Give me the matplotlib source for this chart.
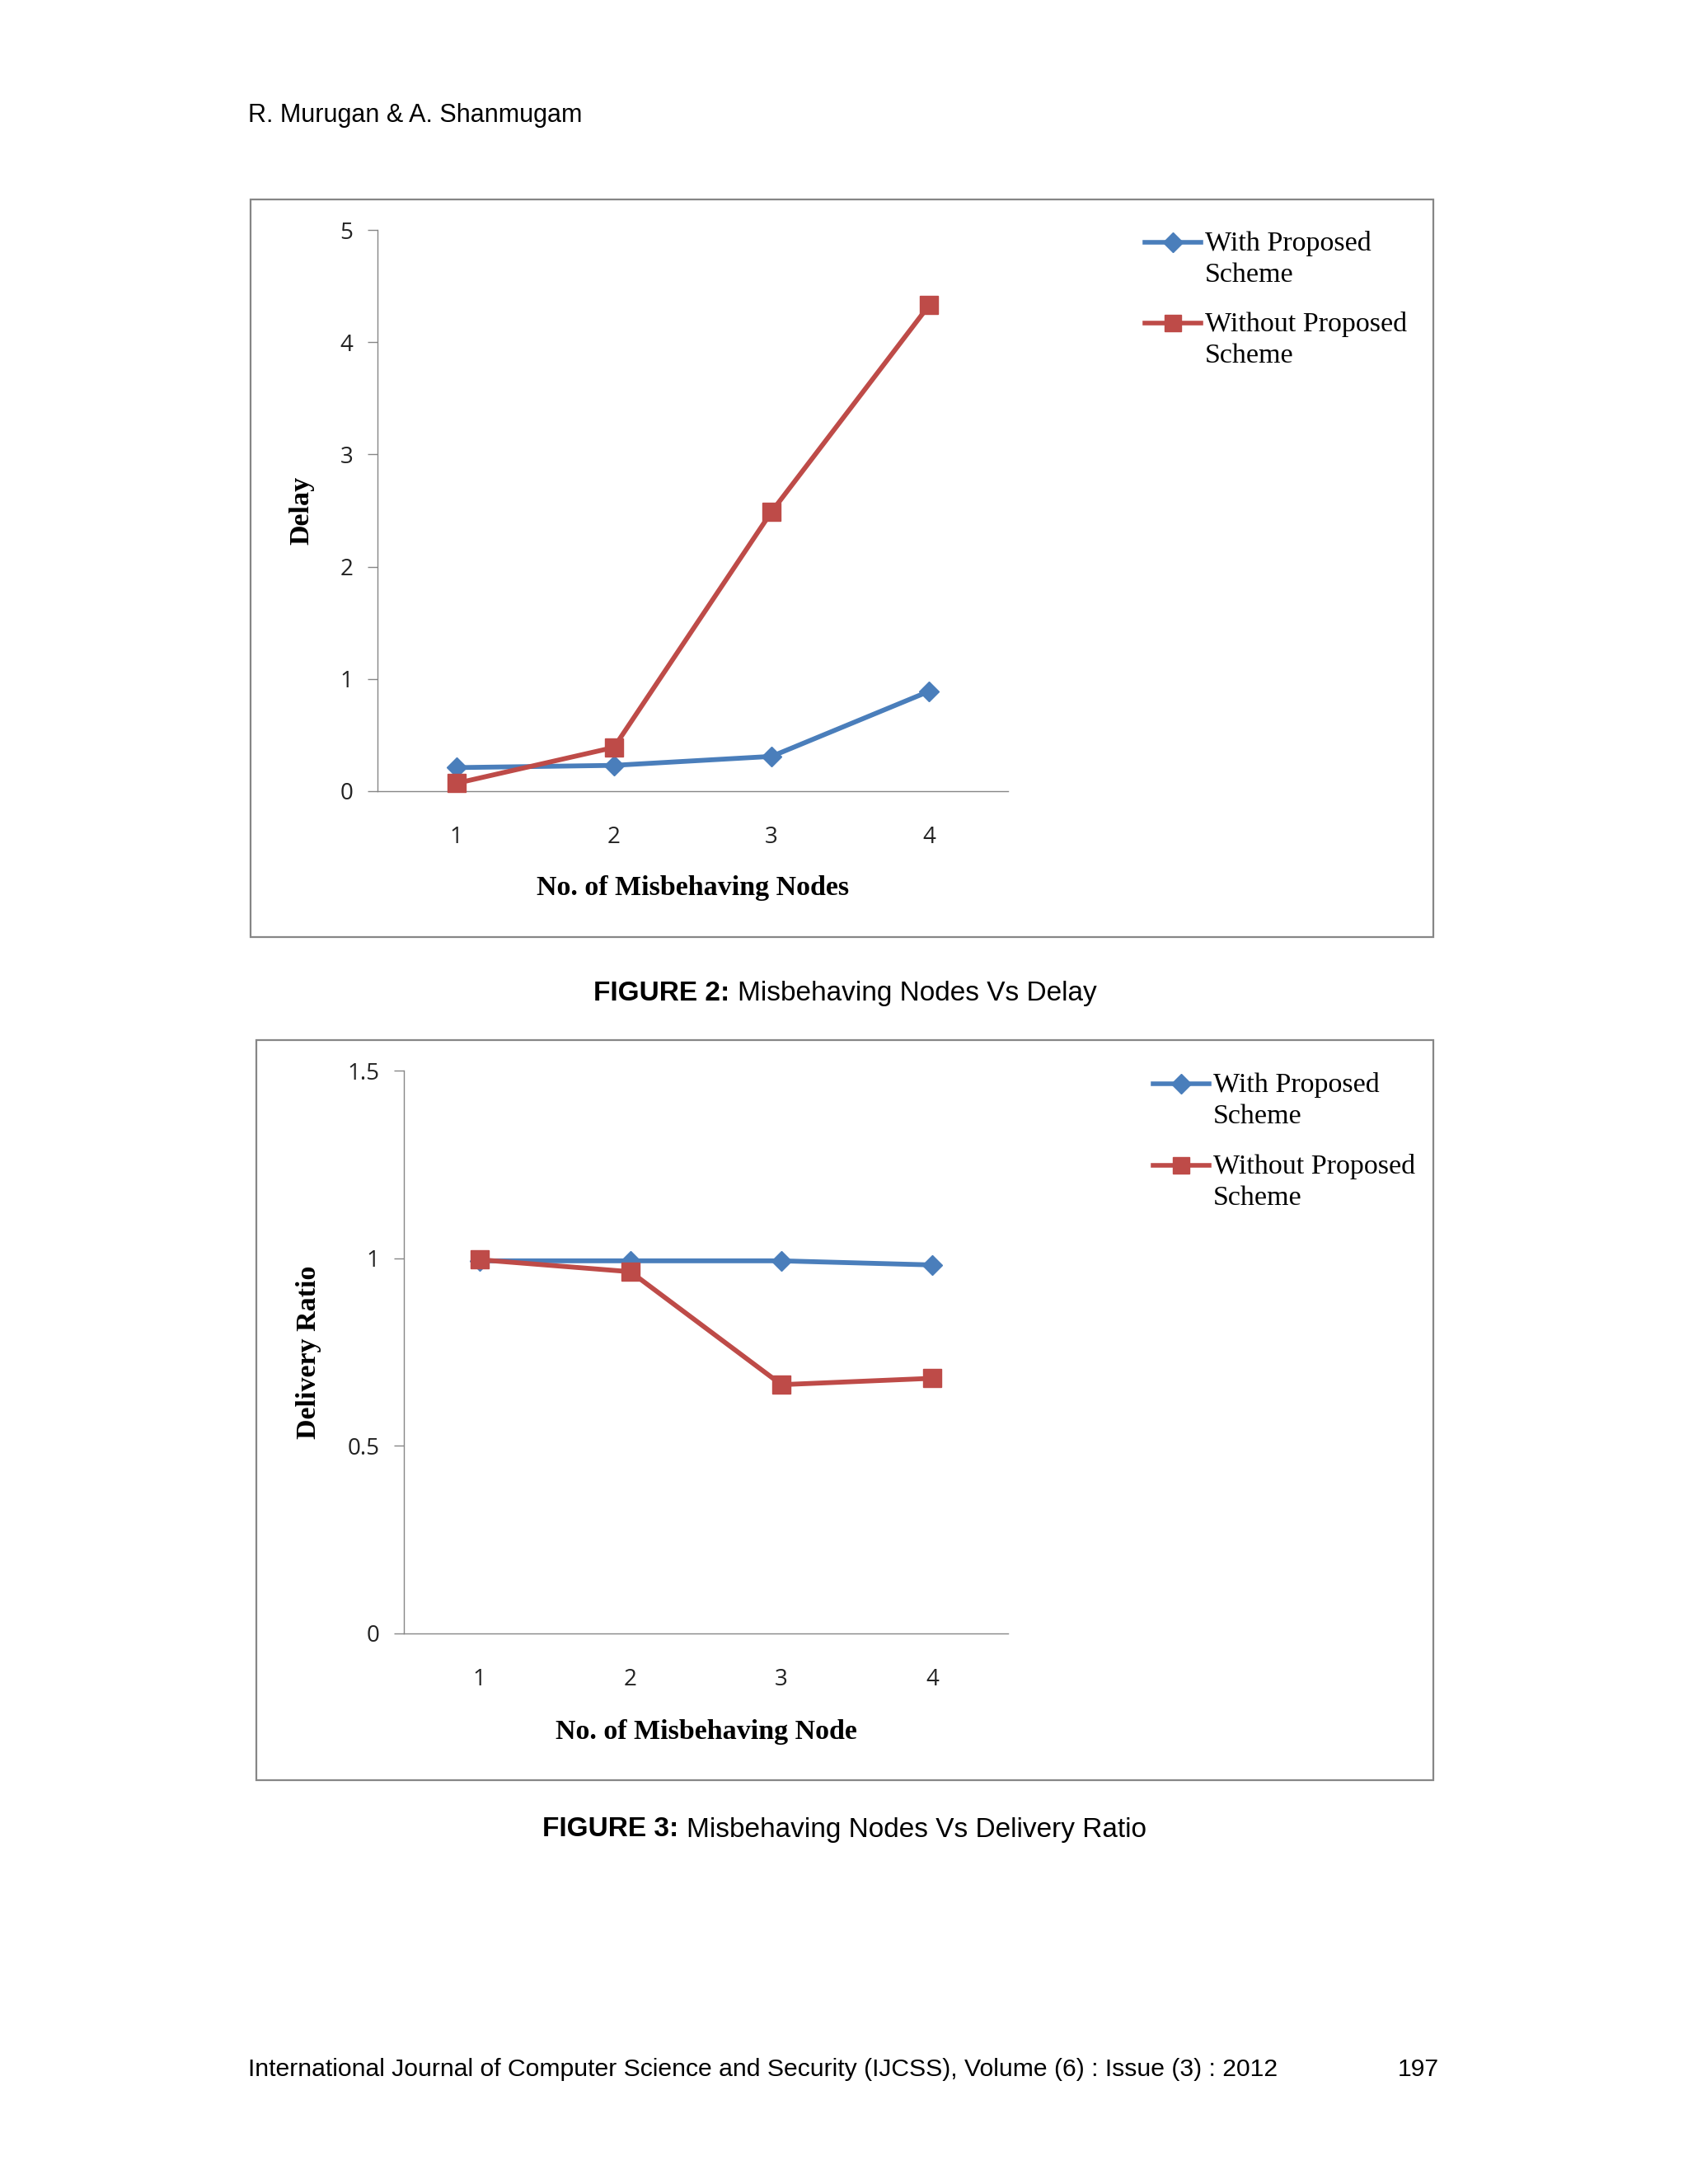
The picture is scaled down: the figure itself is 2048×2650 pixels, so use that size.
import matplotlib
matplotlib.use("Agg")
import matplotlib.pyplot as plt
from matplotlib.lines import Line2D
from matplotlib.patches import Rectangle

W, H = 2048, 2650

nodes = [1, 2, 3, 4]
series_labels = ["With Proposed\nScheme", "Without Proposed\nScheme"]
delay_with = [0.21, 0.23, 0.31, 0.89]
delay_without = [0.07, 0.39, 2.49, 4.33]
ratio_with = [0.993, 0.993, 0.993, 0.982]
ratio_without = [0.996, 0.964, 0.663, 0.680]

BLUE = "#4A7EBB"
RED = "#BE4B48"
GRAY = "#868686"
SANS = "Liberation Sans"
SERIF = "Liberation Serif"
TICKF = "Open Sans"


def rect(l, t, r, b):
    return [l / W, 1 - b / H, (r - l) / W, (b - t) / H]


def fx(x):
    return x / W


def fy(y):
    return 1 - y / H


fig = plt.figure(figsize=(W / 100, H / 100), dpi=100)
fig.patch.set_facecolor("white")


def box(l, t, r, b):
    fig.patches.append(Rectangle((fx(l), fy(b)), (r - l) / W, (b - t) / H,
                                 transform=fig.transFigure, fill=False,
                                 edgecolor=GRAY, linewidth=1.6))


def legend(x0, y0, dy):
    styles = [(BLUE, "D", 12), (RED, "s", 15)]
    for k, (col, mk, ms) in enumerate(styles):
        y = y0 + k * dy
        fig.lines.append(Line2D([fx(x0), fx(x0 + 68)], [fy(y), fy(y)],
                                transform=fig.transFigure, color=col, lw=4))
        fig.lines.append(Line2D([fx(x0 + 34)], [fy(y)], transform=fig.transFigure,
                                color=col, marker=mk, markersize=ms, lw=0))
        fig.text(fx(x0 + 73), fy(y - 14), series_labels[k], family=SERIF,
                 fontsize=24.5, va="top", ha="left", linespacing=1.33)


def caption(x_split, y, bold, rest):
    fig.text(fx(x_split), fy(y), bold, family=SANS, fontweight="bold",
             fontsize=24, ha="right", va="center")
    fig.text(fx(x_split + 10), fy(y), rest, family=SANS, fontsize=24,
             ha="left", va="center")


def panel(axrect, ys_with, ys_without, ylim, yticks, yticklabels, xlabel, ylabel,
          xlab_y, ylab_x):
    ax = fig.add_axes(axrect)
    ax.plot(nodes, ys_with, color=BLUE, lw=4.2, marker="D", markersize=12.5,
            clip_on=False, zorder=3)
    ax.plot(nodes, ys_without, color=RED, lw=4.2, marker="s", markersize=16.5,
            clip_on=False, zorder=4)
    ax.set_xlim(0.5, 4.5)
    ax.set_ylim(*ylim)
    ax.set_xticks(nodes)
    ax.set_yticks(yticks)
    ax.set_yticklabels(yticklabels)
    for s in ("top", "right"):
        ax.spines[s].set_visible(False)
    for s in ("left", "bottom"):
        ax.spines[s].set_color(GRAY)
        ax.spines[s].set_linewidth(1.0)
    ax.tick_params(axis="y", length=8.5, width=1.0, color=GRAY, pad=13,
                   labelsize=20, labelcolor="#222222")
    ax.tick_params(axis="x", length=0, pad=30, labelsize=20, labelcolor="#222222")
    for lab in ax.get_xticklabels() + ax.get_yticklabels():
        lab.set_family(TICKF)
    ax.set_xlabel(xlabel, family=SERIF, fontweight="bold", fontsize=24.5)
    ax.xaxis.set_label_coords(0.5, xlab_y)
    ax.set_ylabel(ylabel, family=SERIF, fontweight="bold", fontsize=24.5)
    ax.yaxis.set_label_coords(ylab_x, 0.5)
    return ax


# header
fig.text(fx(301), fy(140), "R. Murugan & A. Shanmugam", family=SANS, fontsize=22,
         va="center", ha="left")

# figure 2
box(304, 242, 1739, 1137)
panel(rect(458, 279, 1223, 960), delay_with, delay_without, (0, 5),
      [0, 1, 2, 3, 4, 5], ["0", "1", "2", "3", "4", "5"],
      "No. of Misbehaving Nodes", "Delay", -0.15, -0.1)
legend(1389, 294, 98)
caption(885, 1206, "FIGURE 2:", "Misbehaving Nodes Vs Delay")

# figure 3
box(311, 1262, 1739, 2160)
panel(rect(490, 1299, 1223, 1982), ratio_with, ratio_without, (0, 1.5),
      [0, 0.5, 1, 1.5], ["0", "0.5", "1", "1.5"],
      "No. of Misbehaving Node", "Delivery Ratio", -0.152, -0.137)
legend(1399, 1315, 99)
caption(823, 2220, "FIGURE 3:", "Misbehaving Nodes Vs Delivery Ratio")

# footer
fig.text(fx(301), fy(2511),
         "International Journal of Computer Science and Security (IJCSS), Volume (6) : Issue (3) : 2012",
         family=SANS, fontsize=21.7, ha="left", va="center")
fig.text(fx(1746), fy(2511), "197", family=SANS, fontsize=21.7, ha="right", va="center")

fig.savefig("out.png", dpi=100)
